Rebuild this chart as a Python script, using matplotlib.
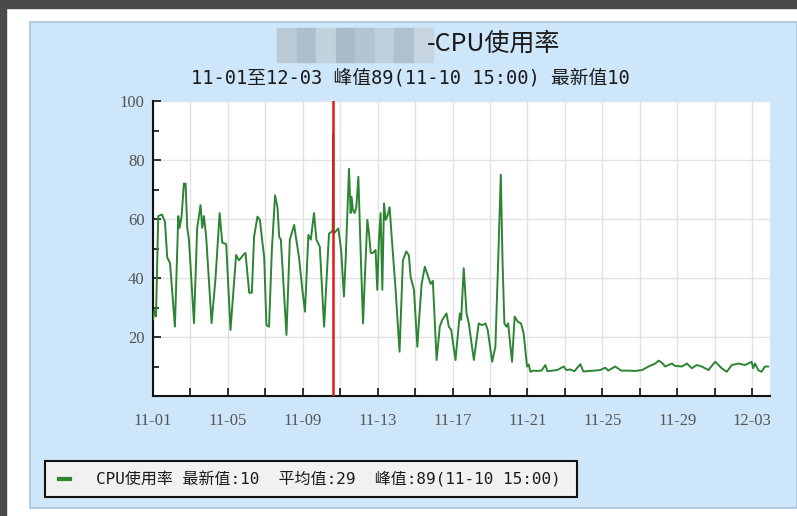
import matplotlib
matplotlib.use('Agg')
import matplotlib.pyplot as plt
from matplotlib.patches import Rectangle

plt.rcParams['font.family'] = ['Noto Sans CJK SC', 'DejaVu Sans']
MONO_CJK = ['DejaVu Sans Mono', 'Noto Sans CJK SC']

# days since 11-01 00:00, CPU usage (%)
days = [0.00, 0.08, 0.16, 0.28, 0.48, 0.64, 0.76, 0.91, 1.17, 1.35, 1.42, 1.53, 1.65, 1.74,
        1.83, 1.92, 2.19, 2.36, 2.54, 2.63, 2.72, 2.84, 3.13, 3.34, 3.56, 3.70, 3.91, 4.14,
        4.44, 4.59, 4.85, 4.94, 5.14, 5.28, 5.40, 5.58, 5.71, 5.81, 5.94, 6.06, 6.20, 6.35,
        6.52, 6.65, 6.74, 6.83, 6.95, 7.13, 7.31, 7.54, 7.63, 7.80, 7.98, 8.12, 8.30, 8.43,
        8.60, 8.73, 8.91, 9.14, 9.40, 9.60, 9.625, 9.65, 9.90, 10.05, 10.20, 10.29, 10.47,
        10.56, 10.61, 10.68, 10.77, 10.86, 10.97, 11.09, 11.22, 11.32, 11.45, 11.54, 11.63,
        11.75, 11.89, 11.98, 12.07, 12.16, 12.25, 12.34, 12.43, 12.52, 12.64, 12.75, 12.96,
        13.17, 13.35, 13.53, 13.67, 13.76, 13.94, 14.12, 14.20, 14.35, 14.52, 14.70, 14.83,
        14.95, 15.15, 15.32, 15.45, 15.68, 15.80, 15.93, 16.16, 16.39, 16.46, 16.60, 16.75,
        16.87, 17.14, 17.40, 17.58, 17.76, 17.88, 18.12, 18.29, 18.44, 18.58, 18.67, 18.77,
        18.88, 18.97, 19.18, 19.32, 19.48, 19.66, 19.80, 19.98, 20.07, 20.16, 20.32, 20.53,
        20.75, 20.96, 21.07, 21.33, 21.60, 21.94, 22.08, 22.29, 22.51, 22.83, 22.99, 23.31,
        23.57, 23.89, 24.16, 24.32, 24.69, 25.01, 25.39, 25.76, 26.13, 26.47, 26.83, 27.01,
        27.18, 27.36, 27.72, 27.89, 28.25, 28.52, 28.78, 29.05, 29.31, 29.67, 30.03, 30.21,
        30.38, 30.65, 30.92, 31.27, 31.63, 31.98, 32.06, 32.16, 32.33, 32.51, 32.69, 32.86]
cpu = [26, 29, 27, 61, 61.5, 59, 47, 45, 23.5, 61, 57, 61, 72, 72,
       57, 53, 24.7, 57, 64.7, 57, 61, 54, 24.7, 40, 62, 52, 51.5, 22.4,
       47.8, 46, 48, 48.5, 35, 35, 54, 60.8, 59.7, 54, 47, 24, 23.5, 49.5,
       68, 64, 54, 53, 40, 20.7, 53, 58, 54, 47, 36, 28.6, 54.6, 53,
       62, 53, 50.6, 23.5, 55, 56, 89, 55, 56.8, 49.5, 33.7, 46, 77,
       62, 67.5, 63, 62, 64, 74.3, 49.5, 24.6, 40.4, 59.7, 55, 48.5,
       48.5, 49.5, 36, 53, 62, 36, 65.3, 59.7, 61, 64, 54, 36,
       15, 46, 49, 47.7, 40.4, 36, 16.7, 24.6, 38, 43.8, 40.4, 38,
       39, 12.2, 23.5, 25.8, 28, 23.5, 22.4, 12.2, 28, 25.8, 43.3, 28,
       24.6, 12.2, 24.6, 24, 24.6, 22.4, 11.6, 16.7, 46, 75, 46, 24.6,
       23.5, 24.6, 11.6, 26.9, 25.2, 24.6, 21.2, 10, 10.7, 8.2, 8.6, 8.5,
       8.6, 10.5, 8.4, 8.6, 8.8, 10, 8.8, 9, 8.4, 10.8, 8.3, 8.5,
       8.6, 8.8, 9.6, 8.6, 10, 8.6, 8.6, 8.5, 8.8, 10, 11, 12,
       11.3, 10, 11, 10.2, 10, 11, 9.4, 10.5, 10, 8.8, 11.6, 10.5,
       9.4, 8.2, 10.5, 11, 10.5, 11.6, 9.4, 11, 8.8, 8.2, 10, 10]

peak_day = 9.625  # 11-10 15:00
x_labels = ['11-01', '11-05', '11-09', '11-13', '11-17', '11-21', '11-25', '11-29', '12-03']

title_text = '-CPU使用率'
subtitle = '11-01至12-03 峰值89(11-10 15:00) 最新值10'
legend_text = 'CPU使用率 最新值:10  平均值:29  峰值:89(11-10 15:00)'

W, H = 797, 516
fig = plt.figure(figsize=(W / 100, H / 100), dpi=100)
fig.patch.set_facecolor('white')

def px(x0, y0, w, h):
    # pixel box (top-left origin) -> figure fraction
    return (x0 / W, 1 - (y0 + h) / H, w / W, h / H)

def add_rect(x0, y0, w, h, z=0, **kw):
    rx, ry, rw, rh = px(x0, y0, w, h)
    r = Rectangle((rx, ry), rw, rh, transform=fig.transFigure, zorder=z, **kw)
    fig.patches.append(r)
    return r

# dark screen border and light blue panel
add_rect(0, 0, W, 8, color='#4a4a4a')
add_rect(0, 0, 6, H, color='#4a4a4a')
add_rect(30, 22, 767, 486, facecolor='#cde6f9', edgecolor='#a9c3da', lw=1.2)

# pixelated (redacted) part of the title
shades = ['#b9cad6', '#aebfcc', '#c3d3de', '#aabbc8', '#b4c5d1', '#bfcfdb', '#b0c1ce', '#c6d5e0']
for i, c in enumerate(shades):
    add_rect(277 + i * 19.5, 28, 19.5, 34, z=1, color=c)

fig.text(427 / W, 1 - 44 / H, title_text, fontsize=18, ha='left', va='center',
         color='#1a1a1a', zorder=3)
fig.text(410 / W, 1 - 78 / H, subtitle, fontsize=13.5, ha='center', va='center',
         color='#1a1a1a', family=MONO_CJK, zorder=3)

ax = fig.add_axes(px(153, 101, 617, 295))
ax.set_zorder(2)
ax.set_facecolor('white')
ax.plot(days, cpu, color='#2d8534', lw=1.4, zorder=3)
ax.axvline(peak_day, color='#e01b1b', lw=1.8, zorder=4)

ax.set_xlim(0, 32.96)
ax.set_ylim(0, 100)
ax.set_xticks(range(0, 33, 4))
ax.set_xticklabels(x_labels)
ax.set_xticks(range(2, 33, 4), minor=True)
ax.set_yticks([20, 40, 60, 80, 100])
ax.set_yticks([10, 30, 50, 70, 90], minor=True)
ax.grid(True, which='both', color='#e2e2e2', lw=1.0, zorder=0)
ax.yaxis.grid(False, which='minor')

for s in ['top', 'right']:
    ax.spines[s].set_visible(False)
for s in ['left', 'bottom']:
    ax.spines[s].set_linewidth(1.5)
    ax.spines[s].set_color('#111111')

ax.tick_params(which='both', direction='in', color='#111111', width=1.2)
ax.tick_params(which='major', length=6)
ax.tick_params(axis='y', which='minor', length=4)
ax.tick_params(axis='x', which='minor', length=6)
ax.tick_params(axis='x', pad=12)
ax.tick_params(axis='y', pad=6)
for lab in ax.get_xticklabels() + ax.get_yticklabels():
    lab.set_family('Liberation Serif')
    lab.set_fontsize(12)
    lab.set_color('#555555')

# legend box at the bottom
add_rect(45, 461, 532, 36, z=2, facecolor='#f1f1f1', edgecolor='#111111', lw=1.5)
fig.lines.append(plt.Line2D([59 / W, 70 / W], [1 - 479 / H] * 2, transform=fig.transFigure,
                            color='#2d8534', lw=3, zorder=3))
fig.text(96 / W, 1 - 479 / H, legend_text, fontsize=11.5, ha='left', va='center',
         color='#1a1a1a', family=MONO_CJK, zorder=3)

fig.savefig('out.png', dpi=100)
